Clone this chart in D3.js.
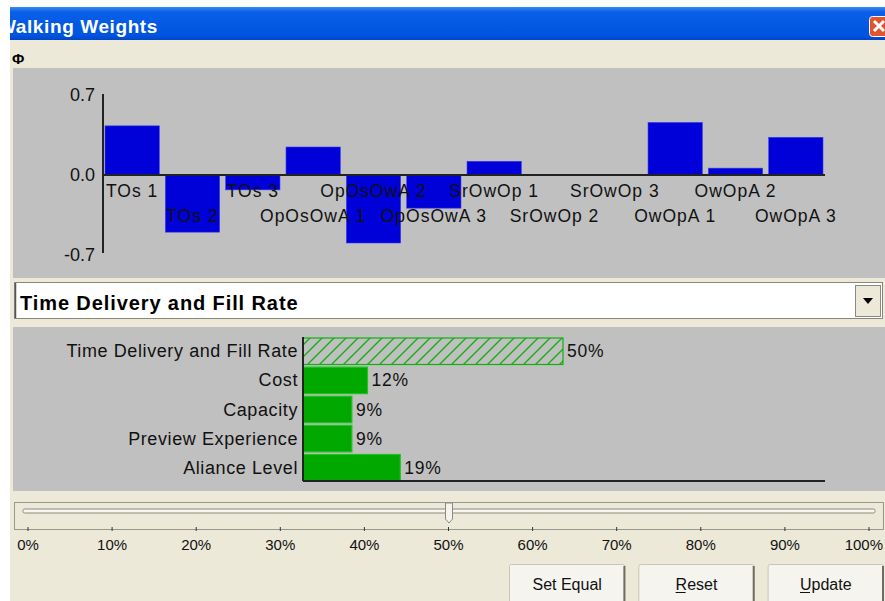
<!DOCTYPE html>
<html>
<head>
<meta charset="utf-8">
<script src="https://cdn.jsdelivr.net/npm/d3@7"></script>
<style>
  body { margin: 0; background: #fff; }
  text { font-family: "Liberation Sans", Arial, sans-serif; }
</style>
</head>
<body>
<svg width="885" height="601"></svg>
<script>
// weights per scenario (top chart)
var scenarios = ["TOs 1", "TOs 2", "TOs 3", "OpOsOwA 1", "OpOsOwA 2", "OpOsOwA 3",
                 "SrOwOp 1", "SrOwOp 2", "SrOwOp 3", "OwOpA 1", "OwOpA 2", "OwOpA 3"];
var weights = [0.43, -0.50, -0.13, 0.245, -0.595, -0.29, 0.12, 0, 0, 0.46, 0.06, 0.33];
var weightTicks = [0.7, 0.0, -0.7];

// criteria shares (lower chart)
var criteria = ["Time Delivery and Fill Rate", "Cost", "Capacity", "Preview Experience", "Aliance Level"];
var shares = [50, 12.4, 9.4, 9.4, 18.7];
var selected = "Time Delivery and Fill Rate";

// slider
var sliderTicks = [0, 10, 20, 30, 40, 50, 60, 70, 80, 90, 100];
var sliderValue = 50;
var buttons = ["Set Equal", "Reset", "Update"];

var svg = d3.select("svg");
var beige = "#ece9d8", panel = "#c0c0c0";
var defs = svg.append("defs");

// window frame
svg.append("rect").attr("x", 10).attr("y", 7).attr("width", 875).attr("height", 594).attr("fill", beige);
var grad = defs.append("linearGradient").attr("id", "tb").attr("x1", 0).attr("y1", 0).attr("x2", 0).attr("y2", 1);
grad.append("stop").attr("offset", 0).attr("stop-color", "#3d8bf5");
grad.append("stop").attr("offset", 0.15).attr("stop-color", "#0a5fe8");
grad.append("stop").attr("offset", 0.85).attr("stop-color", "#0055e0");
grad.append("stop").attr("offset", 1).attr("stop-color", "#0046c8");
svg.append("rect").attr("x", 10).attr("y", 7).attr("width", 875).attr("height", 33).attr("fill", "url(#tb)");
defs.append("clipPath").attr("id", "tclip")
  .append("rect").attr("x", 10).attr("y", 7).attr("width", 875).attr("height", 33);
svg.append("text").attr("x", -2).attr("y", 33).attr("clip-path", "url(#tclip)")
  .attr("fill", "#fff").attr("font-weight", "bold").attr("font-size", 19).attr("letter-spacing", 0.6)
  .text("Walking Weights");
// close box
svg.append("rect").attr("x", 869.5).attr("y", 16.5).attr("width", 20).attr("height", 20).attr("rx", 3)
  .attr("fill", "#e0552f").attr("stroke", "#fff");
svg.append("path").attr("d", "M874,21 L884,31 M884,21 L874,31").attr("stroke", "#fff").attr("stroke-width", 3);

svg.append("text").attr("x", 12).attr("y", 64).attr("font-size", 15).attr("font-weight", "bold").text("\u03a6");

// ---- top chart ----
svg.append("rect").attr("x", 13).attr("y", 68).attr("width", 872).attr("height", 210).attr("fill", panel);

var x = d3.scaleBand().domain(scenarios).range([105, 823]).paddingInner(0.1);
var y = d3.scaleLinear().domain([-0.7, 0.7]).range([255, 95]);

svg.selectAll(".wbar").data(weights).enter().append("rect")
  .attr("class", "wbar")
  .attr("x", function(d, i) { return x(scenarios[i]); })
  .attr("y", function(d) { return y(Math.max(0, d)); })
  .attr("width", x.bandwidth())
  .attr("height", function(d) { return Math.abs(y(d) - y(0)); })
  .attr("fill", "#0000d8").attr("stroke", "#3a3af0").attr("stroke-width", 0.6);

svg.append("line").attr("x1", 103).attr("x2", 103).attr("y1", y(0.7) - 1).attr("y2", y(-0.7) - 2)
  .attr("stroke", "#222").attr("stroke-width", 2);
svg.append("line").attr("x1", 103).attr("x2", 825).attr("y1", y(0)).attr("y2", y(0))
  .attr("stroke", "#222").attr("stroke-width", 2);

svg.selectAll(".wtick").data(weightTicks).enter().append("text")
  .attr("x", 95).attr("y", function(d) { return y(d) + 6; })
  .attr("text-anchor", "end").attr("font-size", 18).attr("fill", "#111")
  .text(function(d) { return d.toFixed(1); });

svg.selectAll(".slab").data(scenarios).enter().append("text")
  .attr("x", function(d) { return x(d) + x.bandwidth() / 2; })
  .attr("y", function(d, i) { return i % 2 ? 222 : 197; })
  .attr("text-anchor", "middle").attr("font-size", 17.5).attr("letter-spacing", 1).attr("fill", "#111")
  .text(function(d) { return d; });

// ---- combo box ----
svg.append("rect").attr("x", 14.5).attr("y", 282.5).attr("width", 868).attr("height", 36)
  .attr("fill", "#fff").attr("stroke", "#8a877a");
svg.append("line").attr("x1", 15.5).attr("x2", 15.5).attr("y1", 283).attr("y2", 318).attr("stroke", "#555").attr("stroke-width", 1.5);
svg.append("text").attr("x", 20).attr("y", 310).attr("font-size", 20).attr("font-weight", "bold")
  .attr("letter-spacing", 0.9).attr("fill", "#000").text(selected);
svg.append("rect").attr("x", 855.5).attr("y", 285.5).attr("width", 25).attr("height", 31)
  .attr("fill", beige).attr("stroke", "#888");
svg.append("path").attr("d", "M863,298 L873,298 L868,304 Z").attr("fill", "#000");

// ---- criteria chart ----
svg.append("rect").attr("x", 13).attr("y", 327).attr("width", 872).attr("height", 164).attr("fill", panel);

var hx = d3.scaleLinear().domain([0, 100]).range([303, 823]);
var hy = d3.scaleBand().domain(criteria).range([338, 481]).paddingInner(0.09);

var pat = defs.append("pattern").attr("id", "hatch").attr("patternUnits", "userSpaceOnUse")
  .attr("width", 12).attr("height", 12);
pat.append("rect").attr("width", 12).attr("height", 12).attr("fill", panel);
pat.append("path").attr("d", "M-3,15 L15,-3 M-3,3 L3,-3 M9,15 L15,9").attr("stroke", "#12b012").attr("stroke-width", 1.4);

svg.selectAll(".cbar").data(shares).enter().append("rect")
  .attr("x", hx(0))
  .attr("y", function(d, i) { return hy(criteria[i]); })
  .attr("width", function(d) { return hx(d) - hx(0); })
  .attr("height", hy.bandwidth())
  .attr("fill", function(d, i) { return criteria[i] === selected ? "url(#hatch)" : "#00a800"; })
  .attr("stroke", function(d, i) { return criteria[i] === selected ? "#10b010" : "#22c022"; })
  .attr("stroke-width", 1.2);

svg.selectAll(".clab").data(criteria).enter().append("text")
  .attr("x", 298).attr("y", function(d) { return hy(d) + hy.bandwidth() / 2 + 6; })
  .attr("text-anchor", "end").attr("font-size", 18).attr("letter-spacing", 0.6).attr("fill", "#111")
  .text(function(d) { return d; });

svg.selectAll(".cval").data(shares).enter().append("text")
  .attr("x", function(d) { return hx(d) + 4; })
  .attr("y", function(d, i) { return hy(criteria[i]) + hy.bandwidth() / 2 + 6; })
  .attr("font-size", 17.5).attr("letter-spacing", 0.8).attr("fill", "#111")
  .text(function(d) { return Math.round(d) + "%"; });

svg.append("line").attr("x1", 303).attr("x2", 303).attr("y1", 337).attr("y2", 481).attr("stroke", "#222").attr("stroke-width", 2);
svg.append("line").attr("x1", 303).attr("x2", 825).attr("y1", 481).attr("y2", 481).attr("stroke", "#222").attr("stroke-width", 2);

// ---- slider ----
var sx = d3.scaleLinear().domain([0, 100]).range([28, 869]);
svg.append("rect").attr("x", 14.5).attr("y", 502.5).attr("width", 869).attr("height", 27)
  .attr("fill", "none").attr("stroke", "#444").attr("stroke-dasharray", "1,1");
svg.append("rect").attr("x", 23).attr("y", 509).attr("width", 852).attr("height", 4).attr("rx", 1.5)
  .attr("fill", "#f7f6f0").attr("stroke", "#8c8a7c");
svg.selectAll(".stick").data(sliderTicks).enter().append("line")
  .attr("x1", function(d) { return sx(d); }).attr("x2", function(d) { return sx(d); })
  .attr("y1", 527).attr("y2", 531).attr("stroke", "#333");
svg.selectAll(".slbl").data(sliderTicks).enter().append("text")
  .attr("x", function(d) { return d === 100 ? 883 : sx(d); }).attr("y", 550)
  .attr("text-anchor", function(d) { return d === 100 ? "end" : "middle"; })
  .attr("font-size", 15).attr("fill", "#111")
  .text(function(d) { return d + "%"; });
svg.append("path")
  .attr("d", "M" + (sx(sliderValue) - 3) + ",503 h7 v16 l-3.5,4 l-3.5,-4 Z")
  .attr("fill", "#f4f3ee").attr("stroke", "#8c8a7c");

// ---- buttons ----
var bx = d3.scaleBand().domain(buttons).range([509, 884]).paddingInner(0.1);
var b = svg.selectAll(".btn").data(buttons).enter().append("g");
b.append("rect").attr("x", function(d) { return bx(d) + 0.5; }).attr("y", 564.5)
  .attr("width", bx.bandwidth() - 1).attr("height", 40).attr("rx", 2)
  .attr("fill", "#f5f4ee").attr("stroke", "#c9c6b8");
b.append("line").attr("x1", function(d) { return bx(d) + bx.bandwidth() - 1; })
  .attr("x2", function(d) { return bx(d) + bx.bandwidth() - 1; })
  .attr("y1", 566).attr("y2", 601).attr("stroke", "#6f6d62").attr("stroke-width", 2);
b.append("text").attr("x", function(d) { return bx(d) + bx.bandwidth() / 2; }).attr("y", 590)
  .attr("text-anchor", "middle").attr("font-size", 16).attr("fill", "#111")
  .text(function(d) { return d; });
// mnemonic underlines
b.filter(function(d) { return d !== "Set Equal"; }).append("line")
  .attr("x1", function(d) { var t = this.parentNode.querySelector("text"); return t.getBBox().x; })
  .attr("x2", function(d) { var t = this.parentNode.querySelector("text"); return t.getBBox().x + 10; })
  .attr("y1", 592.5).attr("y2", 592.5).attr("stroke", "#111");
</script>
</body>
</html>
